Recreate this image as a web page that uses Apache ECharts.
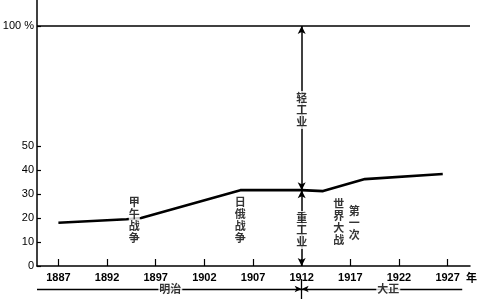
<!DOCTYPE html>
<html><head><meta charset="utf-8">
<script src="https://cdn.jsdelivr.net/npm/echarts@6/dist/echarts.min.js"></script>
<style>html,body{margin:0;padding:0;background:#fff}#c{width:478px;height:301px}</style>
</head><body><div id="c"></div>
<script>
// data
const years = [1887, 1894, 1895.5, 1905.7, 1912, 1914.2, 1918.5, 1926.5];
const heavyShare = [18.0, 19.5, 20.0, 31.6, 31.6, 31.2, 36.2, 38.3];
const xTickYears = [1887, 1892, 1897, 1902, 1907, 1912, 1917, 1922, 1927];
const yTickValues = [0, 10, 20, 30, 40, 50, 100];
const boundaryYear = 1912;
const boundaryShare = 31.6;
const totalShare = 100;
const eventYears = [1894.8, 1905.7, 1915.8, 1917.4];
const eventLabels = ['甲午战争', '日俄战争', '世界大战', '第一次'];
const eventLevels = [19.2, 19.2, 18.3, 17.9];
const industryLabels = ['重工业', '轻工业'];
const industryLevels = [15, 65];
const eraNames = ['明治', '大正'];
const eraStart = [1884.8, 1912];
const eraEnd = [1912, 1928.5];
const eraLabelYears = [1898.5, 1920.9];

const vert = s => s.split('').join('\n');
const cjk = '"Noto Sans CJK SC", "Noto Sans", sans-serif';
const XMIN = 1884.8, XMAX = 1929.3;

const chart = echarts.init(document.getElementById('c'));
chart.setOption({
  animation: false,
  backgroundColor: '#fff',
  grid: [
    {left: 37, right: 8, top: 0, bottom: 35, outerBoundsMode: 'none', containLabel: false},
    {left: 37, right: 8, top: 279, height: 20, outerBoundsMode: 'none', containLabel: false}
  ],
  xAxis: [{
    type: 'value', min: XMIN, max: XMAX, gridIndex: 0,
    name: '年', nameLocation: 'end', nameGap: -4,
    nameTextStyle: {fontFamily: cjk, fontSize: 11, fontWeight: 'bold', color: '#000', verticalAlign: 'top', padding: [6, 0, 0, 0]},
    axisLine: {lineStyle: {color: '#000', width: 1.5}},
    axisTick: {inside: true, length: 7, customValues: xTickYears, lineStyle: {color: '#000', width: 1.2}},
    axisLabel: {customValues: xTickYears, formatter: v => String(v), color: '#000', fontSize: 11,
      fontFamily: 'Liberation Sans', fontWeight: 'bold', margin: 6},
    splitLine: {show: false}
  }, {
    type: 'value', min: XMIN, max: XMAX, gridIndex: 1, show: false
  }],
  yAxis: [{
    type: 'value', min: 0, max: 110.8, gridIndex: 0,
    axisLine: {show: true, lineStyle: {color: '#000', width: 1.5}},
    axisTick: {show: true, inside: true, length: 4, customValues: yTickValues, lineStyle: {color: '#000', width: 1.2}},
    axisLabel: {customValues: yTickValues, formatter: v => v === 100 ? '100 %' : String(v),
      color: '#000', fontSize: 11, fontFamily: 'Liberation Sans', margin: 3},
    splitLine: {show: false}
  }, {
    type: 'value', min: 0, max: 1, gridIndex: 1, show: false
  }],
  series: [{
    type: 'line', xAxisIndex: 0, yAxisIndex: 0,
    data: years.map((y, i) => [y, heavyShare[i]]),
    symbol: 'none', lineStyle: {color: '#000', width: 2.6},
    markLine: {
      silent: true, symbol: ['arrow', 'arrow'], symbolSize: [6, 8],
      lineStyle: {color: '#000', width: 1.5, type: 'solid'},
      label: {show: false},
      data: [
        [{coord: [boundaryYear, 0]}, {coord: [boundaryYear, boundaryShare]}],
        [{coord: [boundaryYear, boundaryShare]}, {coord: [boundaryYear, totalShare]}],
        [{coord: [XMIN, totalShare], symbol: 'none'}, {coord: [XMAX, totalShare], symbol: 'none'}]
      ]
    }
  }, {
    type: 'scatter', xAxisIndex: 0, yAxisIndex: 0, z: 10,
    symbolSize: 1, itemStyle: {color: 'rgba(0,0,0,0)'},
    data: eventYears.map((y, i) => ({value: [y, eventLevels[i]], name: eventLabels[i]}))
      .concat(industryLabels.map((t, i) => ({value: [boundaryYear, industryLevels[i]], name: t}))),
    label: {show: true, position: 'inside', formatter: p => vert(p.name),
      fontFamily: cjk, fontSize: 11, fontWeight: 'bold', lineHeight: 12, color: '#000',
      backgroundColor: '#fff', padding: [1, 0]}
  }, {
    type: 'line', xAxisIndex: 1, yAxisIndex: 1, data: [], symbol: 'none',
    markLine: {
      silent: true, symbolSize: [5, 7],
      lineStyle: {color: '#000', width: 1.3, type: 'solid'},
      label: {show: false},
      data: [
        [{coord: [eraStart[0], 0.5], symbol: 'none'}, {coord: [eraEnd[0], 0.5], symbol: 'arrow'}],
        [{coord: [eraStart[1], 0.5], symbol: 'arrow'}, {coord: [eraEnd[1], 0.5], symbol: 'none'}],
        [{coord: [boundaryYear, 0], symbol: 'none'}, {coord: [boundaryYear, 1], symbol: 'none'}]
      ]
    }
  }, {
    type: 'scatter', xAxisIndex: 1, yAxisIndex: 1, z: 10,
    symbolSize: 1, itemStyle: {color: 'rgba(0,0,0,0)'},
    data: eraNames.map((n, i) => ({value: [eraLabelYears[i], 0.5], name: n})),
    label: {show: true, position: 'inside', formatter: p => p.name,
      fontFamily: cjk, fontSize: 11, fontWeight: 'bold', color: '#000', backgroundColor: '#fff', padding: [0, 1]}
  }]
});
</script></body></html>
